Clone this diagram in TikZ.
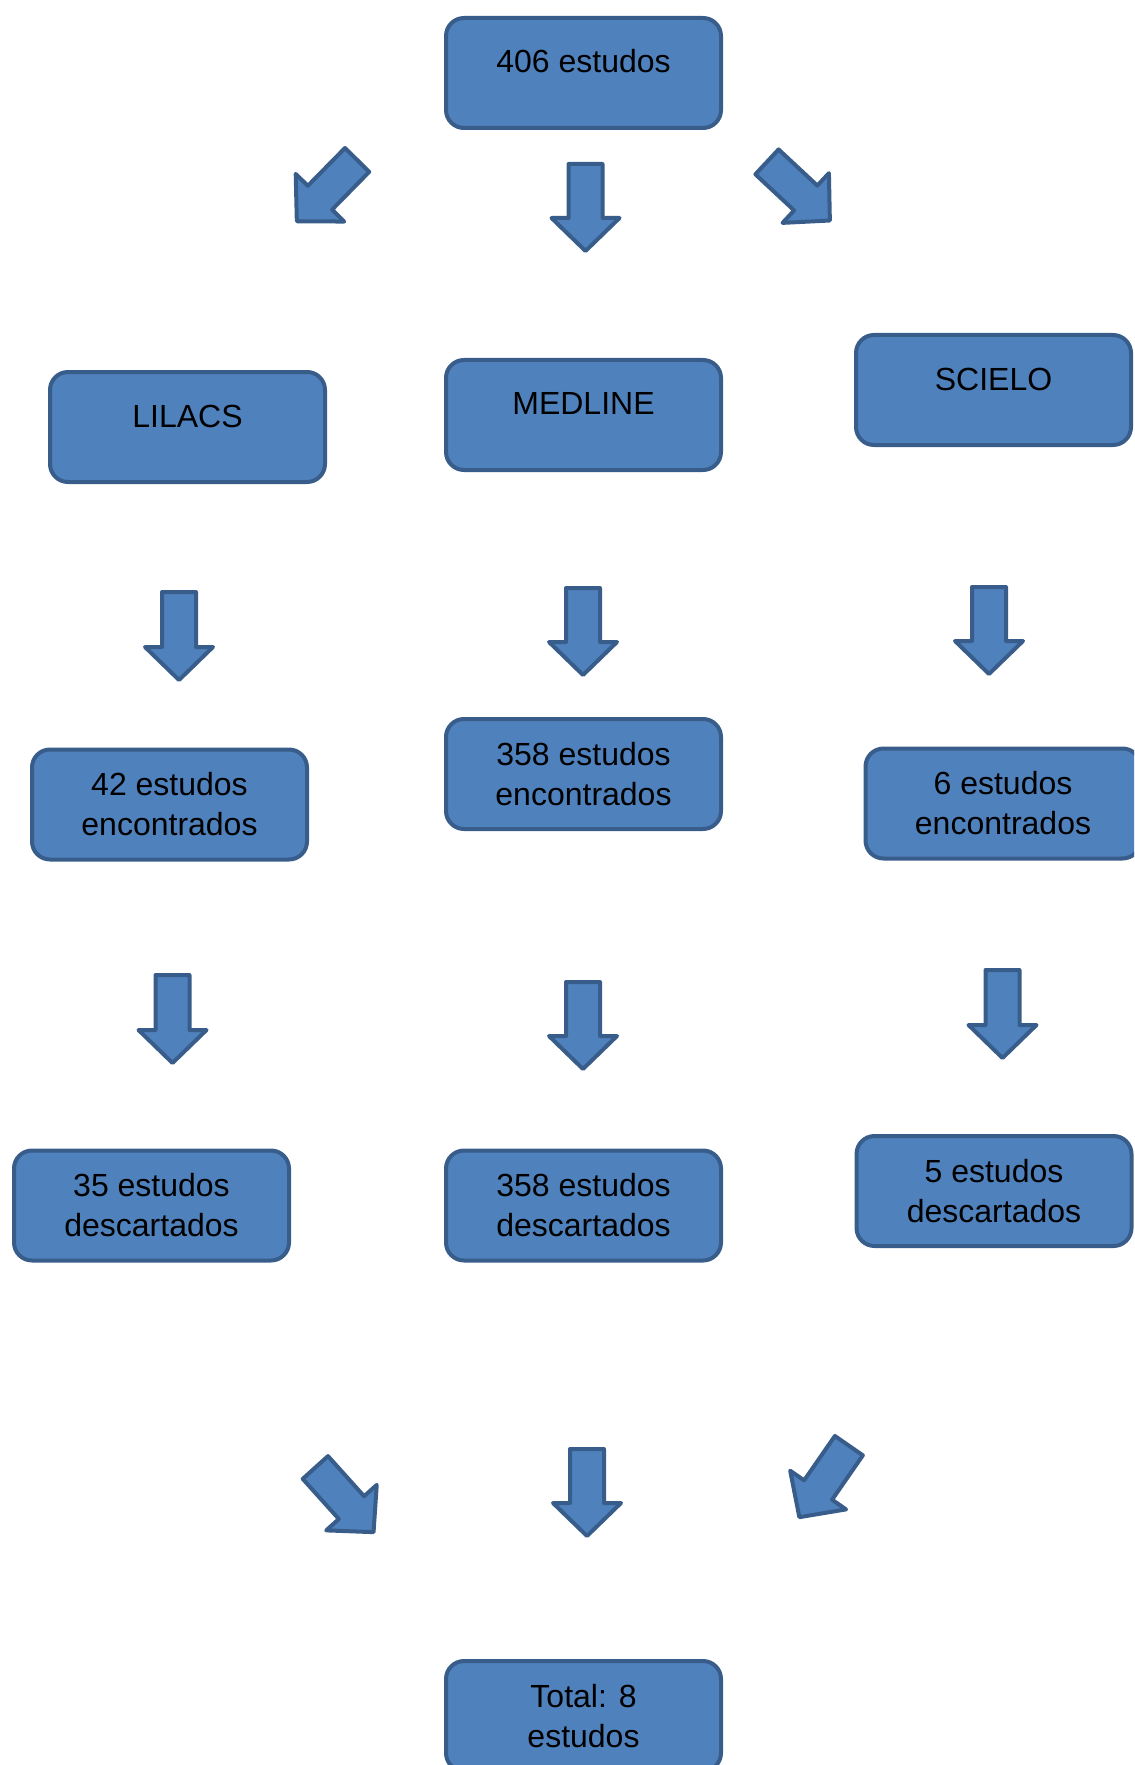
\documentclass[tikz,border=0pt]{standalone}
\usepackage{fontspec}
\setmainfont{Liberation Sans}
\usepackage{xcolor}
\definecolor{azulcaixa}{RGB}{79,129,189}
\definecolor{azulborda}{RGB}{56,93,138}

\begin{document}
\begin{tikzpicture}[x=0.5pt, y=-0.5pt, font=\fontsize{16}{20}\selectfont,
  caixa/.style={draw=azulborda, fill=azulcaixa, line width=2pt, rounded corners=9pt,
    minimum width=137.5pt, minimum height=55pt, align=center, inner sep=0pt},
  caixaum/.style={caixa, text height=12pt, text depth=12pt},
  seta/.style={draw=azulborda, fill=azulcaixa, line width=2pt, line join=round}]

\useasboundingbox (0,0) rectangle (1134,1765);
\clip (0,0) rectangle (1134,1765);

% --- Caixas ---
\node[caixaum] (inicio) at (583.5,73) {406 estudos};
\node[caixaum] (lilacs) at (187.5,427) {LILACS};
\node[caixaum] (medline) at (583.5,415) {MEDLINE};
\node[caixaum] (scielo) at (993.5,390) {SCIELO};

\node[caixa] (enclilacs) at (169.5,804.5) {42 estudos\\encontrados};
\node[caixa] (encmedline) at (583.5,774) {358 estudos\\encontrados};
\node[caixa] (encscielo) at (1003,803.5) {6 estudos\\encontrados};

\node[caixa] (desclilacs) at (151.5,1205.5) {35 estudos\\descartados};
\node[caixa] (descmedline) at (583.5,1205.5) {358 estudos\\descartados};
\node[caixa] (descscielo) at (994,1191) {5 estudos\\descartados};

\node[caixa] (total) at (583.5,1716) {Total: 8\\estudos};

% --- Setas (cauda x/y, giro, comprimento) ---
\foreach \px/\py/\ang/\len in {358.5/158.5/-44.5/88, 585.5/162/0/89, 765.5/160.5/47/88,
    179/590/0/90, 583/586/0/89, 989/585/0/89,
    172.5/973/0/90, 583/980/0/89, 1002.5/968/0/90,
    314/1466/42/89, 587/1447/0/89, 850/1444/-34.7/89}{
  \draw[seta, shift={(\px,\py)}, rotate=\ang]
    (-17,2) -- (-17,{\len-33}) -- (-34,{\len-33}) -- (0,\len)
    -- (34,{\len-33}) -- (17,{\len-33}) -- (17,2) -- cycle;
}

\end{tikzpicture}
\end{document}
